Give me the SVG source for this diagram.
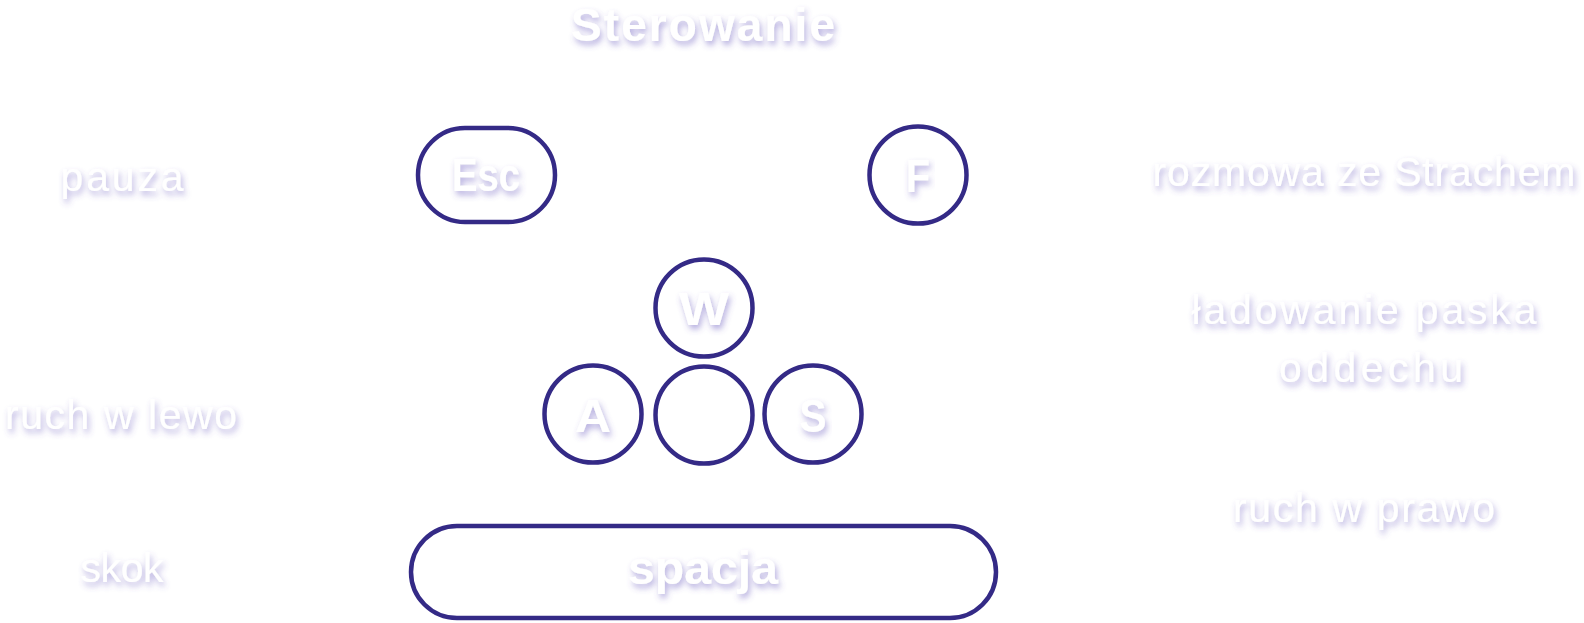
<svg xmlns="http://www.w3.org/2000/svg" width="1584" height="623" viewBox="0 0 1584 623">
  <defs>
    <filter id="sh" x="-20%" y="-40%" width="140%" height="190%">
      <feDropShadow dx="2" dy="4" stdDeviation="3" flood-color="#5b4bb8" flood-opacity="0.45"/>
    </filter>
    <style>
      .key { fill: none; stroke: #342a86; stroke-width: 4.5; }
      .k { font-family: "Liberation Sans", Arial, sans-serif; font-weight: bold; font-size: 47px; fill: #ffffff; text-anchor: middle; filter: url(#sh); }
      .lbl { font-family: "Liberation Sans", Arial, sans-serif; font-size: 41px; fill: #ffffff; text-anchor: middle; filter: url(#sh); }
      .title { font-family: "Liberation Sans", Arial, sans-serif; font-weight: bold; font-size: 46px; fill: #ffffff; text-anchor: middle; filter: url(#sh); }
    </style>
  </defs>
  <rect x="0" y="0" width="1584" height="623" fill="#ffffff"/>

  <g id="title">
    <text class="title" x="703" y="41" textLength="264">Sterowanie</text>
  </g>

  <g id="key-esc">
    <rect class="key" x="418" y="128" width="137" height="94" rx="47"/>
    <text class="k" x="486" y="191" textLength="68" lengthAdjust="spacingAndGlyphs">Esc</text>
  </g>
  <g id="key-f">
    <circle class="key" cx="918" cy="175" r="48.5"/>
    <text class="k" x="918" y="192" textLength="24" lengthAdjust="spacingAndGlyphs">F</text>
  </g>
  <g id="key-w">
    <circle class="key" cx="704" cy="308" r="48.5"/>
    <text class="k" x="704" y="325" textLength="50" lengthAdjust="spacingAndGlyphs">W</text>
  </g>
  <g id="key-a">
    <circle class="key" cx="593" cy="414" r="48.5"/>
    <text class="k" x="593" y="432" textLength="36" lengthAdjust="spacingAndGlyphs">A</text>
  </g>
  <g id="key-blank">
    <circle class="key" cx="704" cy="415" r="48.5"/>
  </g>
  <g id="key-s">
    <circle class="key" cx="813" cy="414" r="48.5"/>
    <text class="k" x="813" y="432" textLength="27" lengthAdjust="spacingAndGlyphs">S</text>
  </g>
  <g id="key-spacja">
    <rect class="key" x="411" y="526" width="585" height="92" rx="46"/>
    <text class="k" x="703" y="584" textLength="150" lengthAdjust="spacingAndGlyphs">spacja</text>
  </g>

  <g id="label-pauza">
    <text class="lbl" x="122" y="191" textLength="123">pauza</text>
  </g>
  <g id="label-ruch-lewo">
    <text class="lbl" x="121" y="429" textLength="232">ruch w lewo</text>
  </g>
  <g id="label-skok">
    <text class="lbl" x="122" y="582" textLength="83">skok</text>
  </g>
  <g id="label-rozmowa">
    <text class="lbl" x="1364" y="186" textLength="423">rozmowa ze Strachem</text>
  </g>
  <g id="label-ladowanie">
    <text class="lbl" x="1364" y="324" textLength="345">ładowanie paska</text>
    <text class="lbl" x="1371" y="382" textLength="184">oddechu</text>
  </g>
  <g id="label-ruch-prawo">
    <text class="lbl" x="1364" y="522" textLength="262">ruch w prawo</text>
  </g>

  <g id="connectors"></g>
</svg>
